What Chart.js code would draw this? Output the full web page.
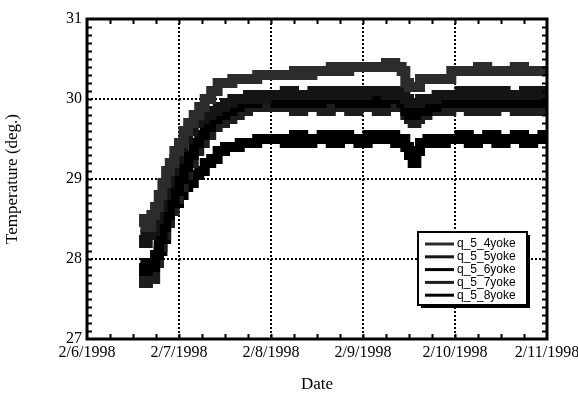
<!DOCTYPE html>
<html>
<head>
<meta charset="utf-8">
<style>
  html, body { margin: 0; padding: 0; background: #fff; }
  #wrap { width: 578px; height: 395px; }
</style>
<script src="https://cdn.jsdelivr.net/npm/chart.js@4.4.1/dist/chart.umd.min.js"></script>
</head>
<body>
<div id="wrap"><canvas id="tempChart" width="578" height="395"></canvas></div>
<script>
// x values are days after 2/6/1998 00:00
const dayLabels = ['2/6/1998', '2/7/1998', '2/8/1998', '2/9/1998', '2/10/1998', '2/11/1998'];
const seriesNames = ['q_5_4yoke', 'q_5_5yoke', 'q_5_6yoke', 'q_5_7yoke', 'q_5_8yoke'];
const seriesColors = ['#2c2c2c', '#141414', '#000000', '#1e1e1e', '#000000'];

const times = [0.58, 0.62, 0.66, 0.70, 0.74, 0.78, 0.82, 0.86, 0.90, 0.95, 1.00, 1.05, 1.10, 1.16, 1.22, 1.28, 1.35, 1.42, 1.50, 1.58, 1.66, 1.75, 1.85, 1.95,
  2.05, 2.15, 2.25, 2.35, 2.45, 2.55, 2.65, 2.75, 2.85, 2.95, 3.05, 3.15, 3.25, 3.35, 3.42,
  3.46, 3.50, 3.54, 3.58, 3.62, 3.70, 3.80, 3.90, 3.96,
  4.05, 4.15, 4.25, 4.35, 4.45, 4.55, 4.65, 4.75, 4.85, 4.95, 5.00];

const yoke4 = [28.4, 28.5, 28.4, 28.55, 28.65, 28.8, 28.95, 29.1, 29.2, 29.35, 29.45, 29.6, 29.7, 29.8, 29.9, 30.0, 30.1, 30.2, 30.2, 30.25, 30.25, 30.25, 30.3, 30.3,
  30.3, 30.3, 30.35, 30.3, 30.35, 30.35, 30.4, 30.35, 30.4, 30.4, 30.4, 30.4, 30.45, 30.4, 30.35,
  30.2, 30.15, 30.15, 30.15, 30.25, 30.25, 30.25, 30.25, 30.35,
  30.35, 30.35, 30.4, 30.35, 30.35, 30.35, 30.4, 30.35, 30.35, 30.35, 30.35];
const yoke5 = [28.3, 28.2, 28.3, 28.35, 28.5, 28.65, 28.8, 28.95, 29.1, 29.25, 29.4, 29.5, 29.6, 29.7, 29.75, 29.8, 29.85, 29.9, 29.95, 30.0, 30.0, 30.05, 30.0, 30.05,
  30.05, 30.1, 30.05, 30.05, 30.1, 30.05, 30.1, 30.05, 30.1, 30.05, 30.1, 30.1, 30.05, 30.1, 30.05,
  30.0, 29.95, 29.95, 29.95, 30.0, 30.0, 30.05, 30.05, 30.05,
  30.1, 30.05, 30.1, 30.05, 30.1, 30.05, 30.05, 30.1, 30.05, 30.1, 30.05];
const yoke6 = [27.95, 27.85, 27.95, 27.9, 28.05, 28.25, 28.4, 28.55, 28.7, 28.85, 29.0, 29.15, 29.3, 29.45, 29.55, 29.65, 29.75, 29.8, 29.85, 29.9, 29.95, 29.95, 30.0, 30.0,
  29.95, 30.0, 29.95, 30.0, 29.95, 30.0, 30.0, 29.95, 30.0, 29.95, 30.0, 29.95, 30.0, 30.0, 29.95,
  29.85, 29.8, 29.8, 29.85, 29.85, 29.9, 29.95, 29.95, 29.95,
  30.0, 29.95, 30.0, 29.95, 30.0, 29.95, 30.0, 29.95, 30.0, 29.95, 30.0];
const yoke7 = [27.8, 27.7, 27.8, 27.75, 27.95, 28.15, 28.3, 28.45, 28.6, 28.75, 28.9, 29.05, 29.2, 29.35, 29.45, 29.55, 29.65, 29.7, 29.75, 29.8, 29.85, 29.9, 29.9, 29.9,
  29.9, 29.9, 29.85, 29.9, 29.9, 29.85, 29.9, 29.9, 29.85, 29.9, 29.9, 29.85, 29.9, 29.9, 29.9,
  29.8, 29.75, 29.7, 29.75, 29.8, 29.85, 29.85, 29.85, 29.9,
  29.9, 29.85, 29.9, 29.85, 29.9, 29.9, 29.85, 29.9, 29.85, 29.9, 29.85];
const yoke8 = [27.8, 27.7, 27.8, 27.75, 27.95, 28.1, 28.25, 28.45, 28.6, 28.7, 28.8, 28.9, 28.95, 29.05, 29.1, 29.2, 29.25, 29.35, 29.4, 29.4, 29.45, 29.45, 29.5, 29.5,
  29.5, 29.45, 29.55, 29.45, 29.5, 29.55, 29.45, 29.55, 29.5, 29.45, 29.55, 29.5, 29.55, 29.45, 29.5,
  29.4, 29.3, 29.2, 29.35, 29.45, 29.5, 29.45, 29.5, 29.5,
  29.55, 29.45, 29.5, 29.55, 29.45, 29.5, 29.55, 29.45, 29.5, 29.55, 29.5];

const allSeries = [yoke4, yoke5, yoke6, yoke7, yoke8];

const serif = "'Liberation Serif', 'Times New Roman', serif";

// inward minor ticks + heavy frame around the plot
const framePlugin = {
  id: 'frame',
  afterDatasetsDraw(chart) {
    const {ctx, chartArea: a, scales: {x, y}} = chart;
    ctx.save();
    ctx.strokeStyle = '#000';
    ctx.lineWidth = 2;
    ctx.beginPath();
    for (let i = 1; i < 40; i++) {
      const py = Math.round(y.getPixelForValue(27 + i / 10)) + 0.5;
      ctx.moveTo(a.left, py); ctx.lineTo(a.left + 5, py);
      ctx.moveTo(a.right, py); ctx.lineTo(a.right - 5, py);
    }
    for (let i = 1; i < 20; i++) {
      const px = Math.round(x.getPixelForValue(i / 4)) + 0.5;
      ctx.moveTo(px, a.bottom); ctx.lineTo(px, a.bottom - 5);
      ctx.moveTo(px, a.top); ctx.lineTo(px, a.top + 5);
    }
    ctx.stroke();
    ctx.lineWidth = 3;
    ctx.strokeRect(a.left, a.top, a.right - a.left, a.bottom - a.top);
    ctx.restore();
  }
};

// boxed legend with drop shadow, lower right inside the plot
const boxLegend = {
  id: 'boxLegend',
  afterDraw(chart) {
    const {ctx, chartArea: a} = chart;
    const bx = a.right - 129, by = a.bottom - 107, bw = 109, bh = 73;
    ctx.save();
    ctx.fillStyle = '#000';
    ctx.fillRect(bx + 3, by + 3, bw, bh);
    ctx.fillStyle = '#fff';
    ctx.fillRect(bx, by, bw, bh);
    ctx.strokeStyle = '#000';
    ctx.lineWidth = 2;
    ctx.strokeRect(bx, by, bw, bh);
    ctx.font = "12px 'Liberation Sans', Arial, sans-serif";
    ctx.textBaseline = 'middle';
    chart.data.datasets.forEach((ds, i) => {
      const ly = by + 12 + i * 12.8;
      ctx.strokeStyle = ds.borderColor;
      ctx.lineWidth = 3;
      ctx.beginPath();
      ctx.moveTo(bx + 7, ly); ctx.lineTo(bx + 36, ly);
      ctx.stroke();
      ctx.fillStyle = '#000';
      ctx.fillText(ds.label, bx + 39, ly);
    });
    ctx.restore();
  }
};

const ctx = document.getElementById('tempChart').getContext('2d');

new Chart(ctx, {
  type: 'line',
  data: {
    datasets: allSeries.map((vals, i) => ({
      label: seriesNames[i],
      data: times.map((t, j) => ({x: t, y: vals[j]})),
      borderColor: seriesColors[i],
      backgroundColor: seriesColors[i],
      borderWidth: 10,
      pointRadius: 0,
      stepped: true,
      fill: false
    }))
  },
  options: {
    responsive: false,
    animation: false,
    layout: {padding: {top: 19, right: 31, left: 0, bottom: 0}},
    plugins: {legend: {display: false}, tooltip: {enabled: false}},
    scales: {
      x: {
        type: 'linear',
        min: 0,
        max: 5,
        afterFit(scale) {
          scale.height = 56;
          scale.paddingLeft = 0;
          scale.paddingRight = 0;
        },
        ticks: {
          stepSize: 1,
          padding: 4,
          maxRotation: 0,
          color: '#000',
          font: {family: serif, size: 16},
          callback: (v) => dayLabels[v]
        },
        grid: {color: '#000', lineWidth: 2, drawTicks: false},
        border: {display: false, dash: [2, 2]},
        title: {display: true, text: 'Date', color: '#000', font: {family: serif, size: 17}, padding: {top: 1, bottom: 0}}
      },
      y: {
        min: 27,
        max: 31,
        afterFit(scale) {
          scale.width = 87;
          scale.paddingTop = 0;
          scale.paddingBottom = 0;
        },
        ticks: {
          stepSize: 1,
          padding: 5,
          color: '#000',
          font: {family: serif, size: 16}
        },
        grid: {color: '#000', lineWidth: 2, drawTicks: false},
        border: {display: false, dash: [2, 2]},
        title: {display: true, text: 'Temperature (deg.)', color: '#000', font: {family: serif, size: 17}, padding: {top: 2, bottom: 0}}
      }
    }
  },
  plugins: [framePlugin, boxLegend]
});
</script>
</body>
</html>
